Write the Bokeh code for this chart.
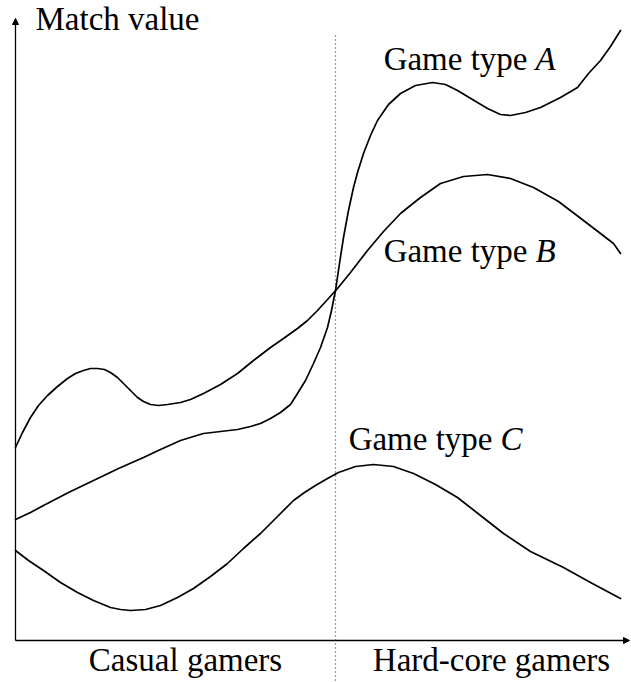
from bokeh.plotting import figure
from bokeh.models import Arrow, NormalHead, Range1d
from bokeh.core.properties import value
from bokeh.embed import file_html
from bokeh.resources import INLINE

# ---- data (gamer commitment on x, match value on y; arbitrary units) ----
a_x = [0, 15, 28, 53, 78, 103, 128, 145, 165, 178, 188, 205, 222, 235, 245, 255, 265, 275,
       282, 290, 298, 305, 312, 316, 320, 324, 328, 333, 338, 342, 348, 355, 362, 373, 385,
       400, 417, 430, 442, 457, 472, 485, 495, 510, 525, 545, 562, 573, 585, 595, 605]
a_y = [121, 128, 135, 148, 160, 172, 183, 191, 200, 204, 207, 209, 211, 214, 217, 222, 228,
       236, 247, 260, 277, 293, 313, 330, 350, 377, 403, 430, 453, 468, 487, 505, 520, 536,
       547, 555, 558, 556, 550, 541, 532, 526, 525, 528, 533, 543, 553, 567, 580, 594, 610]

b_x = [0, 7, 15, 23, 32, 42, 52, 60, 68, 75, 82, 89, 95, 102, 108, 115, 122, 128, 135, 143,
       152, 165, 175, 188, 205, 222, 238, 255, 268, 282, 292, 302, 312, 322, 335, 352, 368,
       385, 405, 425, 448, 472, 495, 518, 543, 568, 585, 598, 605]
b_y = [193, 208, 223, 235, 245, 254, 262, 267, 270, 272, 272, 271, 268, 263, 257, 250, 243,
       239, 236, 235, 236, 238, 241, 247, 256, 267, 280, 293, 302, 312, 320, 330, 341, 352,
       368, 390, 409, 427, 443, 457, 464, 466, 462, 453, 439, 420, 407, 397, 387]

c_x = [0, 13, 28, 45, 62, 78, 95, 105, 115, 130, 145, 162, 178, 195, 212, 228, 245, 262, 278,
       289, 300, 312, 323, 340, 358, 378, 398, 420, 442, 465, 488, 515, 548, 575, 605]
c_y = [90, 80, 70, 58, 48, 40, 33, 31, 30, 31, 35, 43, 52, 64, 77, 92, 107, 124, 140, 148,
       155, 162, 168, 174, 176, 174, 167, 156, 143, 125, 107, 89, 73, 58, 42]

divider_x = 320
series_names = ["A", "B", "C"]
group_labels = ["Casual gamers", "Hard-core gamers"]
y_title = "Match value"

FONT = value("Liberation Serif")
FS = "33px"

p = figure(width=631, height=682, output_backend="svg", toolbar_location=None,
           x_range=Range1d(-15, 616), y_range=Range1d(-42, 640),
           x_axis_location=None, y_axis_location=None, min_border=0,
           outline_line_color=None, background_fill_color="white",
           border_fill_color="white")
p.grid.visible = False

# divider between the two groups
p.segment(x0=[divider_x], y0=[-40], x1=[divider_x], y1=[605],
          line_dash="1 3", line_color="#333333", line_width=1.2)

# curves
for xs, ys in [(a_x, a_y), (b_x, b_y), (c_x, c_y)]:
    p.line(xs, ys, line_color="black", line_width=1.7,
           line_join="round", line_cap="round")

# axes with arrow heads
p.add_layout(Arrow(x_start=0, y_start=0, x_end=0, y_end=622,
                   line_width=1.3, line_color="black",
                   end=NormalHead(size=6, fill_color="black", line_color="black")))
p.add_layout(Arrow(x_start=0, y_start=0, x_end=614, y_end=0,
                   line_width=1.3, line_color="black",
                   end=NormalHead(size=6, fill_color="black", line_color="black")))

# series labels: "Game type" upright + italic letter
lab_y = [582, 390, 202]
word_x = [512, 512, 477]
let_x = [520, 520, 485]
p.text(x=word_x, y=lab_y, text=["Game type"] * 3, text_font=FONT, text_font_size=FS,
       text_align="right", text_baseline="alphabetic", text_color="black")
p.text(x=let_x, y=lab_y, text=series_names, text_font=FONT, text_font_size=FS,
       text_font_style="italic", text_align="left", text_baseline="alphabetic",
       text_color="black")

# axis title
p.text(x=[20], y=[622], text=[y_title], text_font=FONT, text_font_size=FS,
       text_align="left", text_baseline="alphabetic", text_color="black")

# group labels
p.text(x=[170, 476], y=[-19, -19], text=group_labels, text_font=FONT,
       text_font_size=FS, text_align="center", text_baseline="alphabetic",
       text_color="black")

open("out.html", "w").write(file_html(p, INLINE))
